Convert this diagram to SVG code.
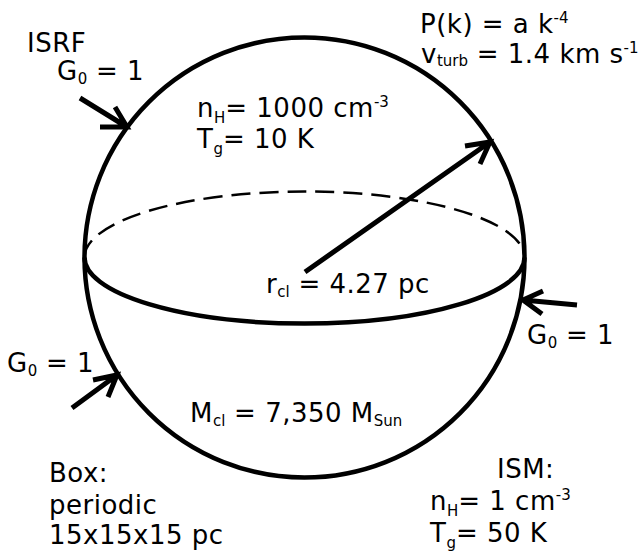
<svg xmlns="http://www.w3.org/2000/svg" width="644" height="552" viewBox="0 0 644 552">
<style>
text{font-family:"DejaVu Sans",sans-serif;font-size:26px;fill:#000;letter-spacing:0.5px}
.sub{font-size:15px;letter-spacing:0}
.sup{font-size:15px;letter-spacing:0}
.thick{fill:none;stroke:#000;stroke-width:4.5}
.arr{fill:none;stroke:#000;stroke-width:5;stroke-linecap:butt}
</style>
<rect width="644" height="552" fill="#fff"/>
<g id="sphere">
<circle class="thick" cx="304.5" cy="257.5" r="220"/>
<path d="M84.5,257.5 A220,66 0 0 1 524.5,257.5" fill="none" stroke="#000" stroke-width="2.5" stroke-dasharray="19,9"/>
<path class="thick" d="M84.5,257.5 A220,66 0 0 0 524.5,257.5"/>
</g>
<g id="connectors">
<path class="arr" d="M305,272 L490,142 M465,146 L490,142 L480,164"/>
<path class="arr" d="M80,98 L127,127 M100,127 L127,127 L115,107"/>
<path class="arr" d="M72,408 L117,375 M93,380 L117,375 L108,397"/>
<path class="arr" d="M577,305 L523,300 M543,291 L523,300 L542,314"/>
</g>
<g id="labels">
<text x="27" y="52">ISRF</text>
<text x="57" y="80">G<tspan class="sub" dy="4">0</tspan><tspan dy="-4"> = 1</tspan></text>
<text x="197" y="117">n<tspan class="sub" dy="6">H</tspan><tspan dy="-6">= 1000 cm</tspan><tspan class="sup" dy="-10">-3</tspan></text>
<text x="197" y="148">T<tspan class="sub" dy="6">g</tspan><tspan dy="-6">= 10 K</tspan></text>
<text x="420" y="33">P(k) = a k<tspan class="sup" dy="-10">-4</tspan></text>
<text x="421" y="63">v<tspan class="sub" dy="3">turb</tspan><tspan dy="-3"> = 1.4 km s</tspan><tspan class="sup" dy="-10">-1</tspan></text>
<text x="266" y="293">r<tspan class="sub" dy="4">cl</tspan><tspan dy="-4"> = 4.27 pc</tspan></text>
<text x="527" y="344">G<tspan class="sub" dy="4">0</tspan><tspan dy="-4"> = 1</tspan></text>
<text x="7" y="372">G<tspan class="sub" dy="4">0</tspan><tspan dy="-4"> = 1</tspan></text>
<text x="190" y="422">M<tspan class="sub" dy="4">cl</tspan><tspan dy="-4"> = 7,350 M</tspan><tspan class="sub" dy="4">Sun</tspan></text>
<text x="49" y="482">Box:</text>
<text x="49" y="514">periodic</text>
<text x="49" y="544">15x15x15 pc</text>
<text x="497" y="478">ISM:</text>
<text x="430" y="510">n<tspan class="sub" dy="6">H</tspan><tspan dy="-6">= 1 cm</tspan><tspan class="sup" dy="-10">-3</tspan></text>
<text x="430" y="542">T<tspan class="sub" dy="6">g</tspan><tspan dy="-6">= 50 K</tspan></text>
</g>
</svg>
